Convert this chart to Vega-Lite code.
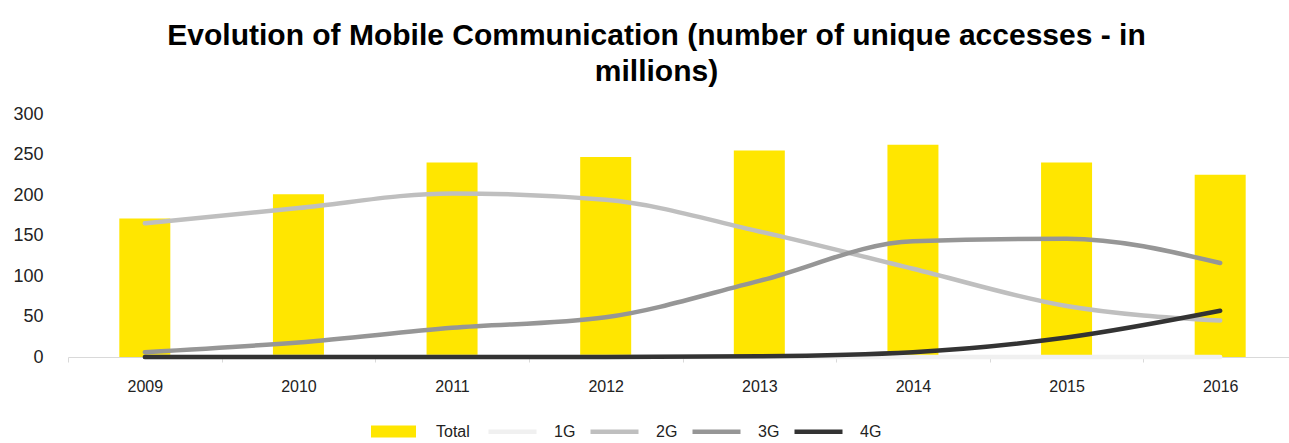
{
  "$schema": "https://vega.github.io/schema/vega-lite/v6.json",
  "autosize": {"type": "none"},
  "width": 1221,
  "height": 243,
  "padding": {"left": 68, "top": 114, "right": 0, "bottom": 86},
  "background": "white",
  "title": {
    "text": ["Evolution of Mobile Communication (number of unique accesses - in", "millions)"],
    "font": "Liberation Sans",
    "fontSize": 30,
    "fontWeight": "bold",
    "color": "#000000",
    "anchor": "middle",
    "dx": -22,
    "offset": 18,
    "lineHeight": 36
  },
  "data": {
    "values": [
      {"year": "2009", "series": "Total", "value": 171},
      {"year": "2010", "series": "Total", "value": 201},
      {"year": "2011", "series": "Total", "value": 240},
      {"year": "2012", "series": "Total", "value": 247},
      {"year": "2013", "series": "Total", "value": 255},
      {"year": "2014", "series": "Total", "value": 262},
      {"year": "2015", "series": "Total", "value": 240},
      {"year": "2016", "series": "Total", "value": 225},
      {"year": "2009", "series": "1G", "value": 0},
      {"year": "2010", "series": "1G", "value": 0},
      {"year": "2011", "series": "1G", "value": 0},
      {"year": "2012", "series": "1G", "value": 0},
      {"year": "2013", "series": "1G", "value": 0},
      {"year": "2014", "series": "1G", "value": 0},
      {"year": "2015", "series": "1G", "value": 0},
      {"year": "2016", "series": "1G", "value": 0},
      {"year": "2009", "series": "2G", "value": 165},
      {"year": "2010", "series": "2G", "value": 184},
      {"year": "2011", "series": "2G", "value": 202},
      {"year": "2012", "series": "2G", "value": 194},
      {"year": "2013", "series": "2G", "value": 155},
      {"year": "2014", "series": "2G", "value": 109},
      {"year": "2015", "series": "2G", "value": 63},
      {"year": "2016", "series": "2G", "value": 45},
      {"year": "2009", "series": "3G", "value": 6},
      {"year": "2010", "series": "3G", "value": 18},
      {"year": "2011", "series": "3G", "value": 36},
      {"year": "2012", "series": "3G", "value": 49},
      {"year": "2013", "series": "3G", "value": 94},
      {"year": "2014", "series": "3G", "value": 143},
      {"year": "2015", "series": "3G", "value": 146},
      {"year": "2016", "series": "3G", "value": 116},
      {"year": "2009", "series": "4G", "value": 0},
      {"year": "2010", "series": "4G", "value": 0},
      {"year": "2011", "series": "4G", "value": 0},
      {"year": "2012", "series": "4G", "value": 0},
      {"year": "2013", "series": "4G", "value": 1},
      {"year": "2014", "series": "4G", "value": 6},
      {"year": "2015", "series": "4G", "value": 24},
      {"year": "2016", "series": "4G", "value": 57}
    ]
  },
  "encoding": {
    "x": {
      "field": "year",
      "type": "ordinal",
      "scale": {"range": [0, 1229], "paddingInner": 0, "paddingOuter": 0},
      "axis": {
        "title": null,
        "labelAngle": 0,
        "labelFont": "Liberation Sans",
        "labelFontSize": 16,
        "labelColor": "#222222",
        "labelPadding": 16,
        "domainColor": "#d9d9d9",
        "domainWidth": 1,
        "tickColor": "#d9d9d9",
        "tickSize": 5,
        "tickBand": "extent",
        "grid": false
      }
    },
    "y": {
      "field": "value",
      "type": "quantitative",
      "scale": {"domain": [0, 300], "nice": false},
      "axis": {
        "title": null,
        "values": [0, 50, 100, 150, 200, 250, 300],
        "labelFont": "Liberation Sans",
        "labelFontSize": 18,
        "labelColor": "#222222",
        "labelPadding": 25,
        "domain": false,
        "ticks": false,
        "grid": false
      }
    }
  },
  "layer": [
    {
      "transform": [{"filter": "datum.series === 'Total'"}],
      "mark": {"type": "bar", "size": 51, "opacity": 1},
      "encoding": {
        "fill": {
          "field": "series",
          "type": "nominal",
          "scale": {"domain": ["Total"], "range": ["#FFE600"]},
          "legend": {
            "title": null,
            "orient": "none",
            "legendX": 303,
            "legendY": 295,
            "direction": "horizontal",
            "labelFont": "Liberation Sans",
            "labelFontSize": 16,
            "labelColor": "#222222",
            "labelOffset": 20,
            "symbolType": "M-1,-0.27H1V0.27H-1Z",
            "symbolSize": 2025,
            "symbolStrokeWidth": 0,
            "symbolOpacity": 1
          }
        }
      }
    },
    {
      "transform": [{"filter": "datum.series !== 'Total'"}],
      "mark": {"type": "line", "strokeWidth": 4.5, "interpolate": "monotone", "strokeCap": "round", "opacity": 1},
      "encoding": {
        "stroke": {
          "field": "series",
          "type": "nominal",
          "scale": {
            "domain": ["1G", "2G", "3G", "4G"],
            "range": ["#F0F0F0", "#BFBFBF", "#969696", "#333333"]
          },
          "legend": {
            "title": null,
            "orient": "none",
            "legendX": 418,
            "legendY": 291,
            "direction": "horizontal",
            "labelFont": "Liberation Sans",
            "labelFontSize": 16,
            "labelColor": "#222222",
            "labelOffset": 15,
            "columnPadding": 5,
            "symbolType": "stroke",
            "symbolSize": 2304,
            "symbolStrokeWidth": 4.5,
            "symbolOpacity": 1
          }
        }
      }
    }
  ],
  "config": {
    "view": {"stroke": null}
  }
}
